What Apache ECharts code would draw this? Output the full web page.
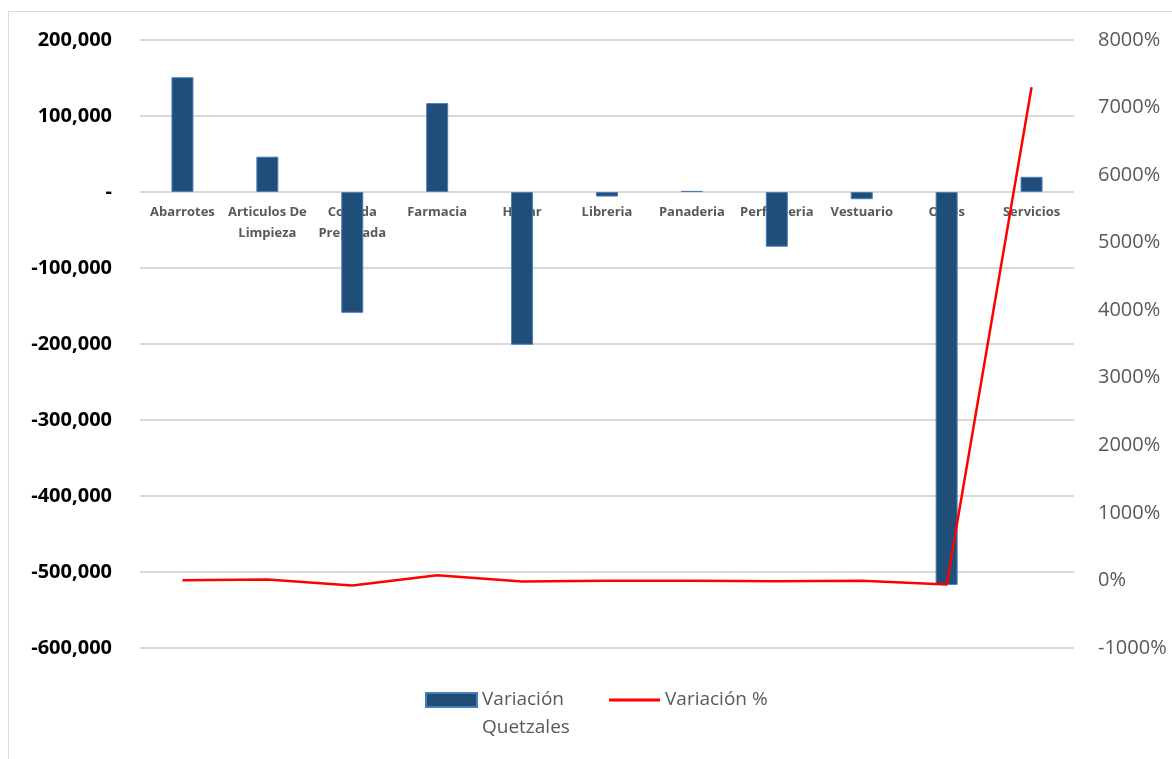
<!DOCTYPE html>
<html>
<head>
<meta charset="utf-8">
<script src="https://cdn.jsdelivr.net/npm/echarts@6/dist/echarts.min.js"></script>
<style>
html,body{margin:0;padding:0;background:#fff;}
#chart{width:1172px;height:759px;}
</style>
</head>
<body>
<div id="chart"></div>
<script>
const categories = ['Abarrotes', 'Articulos De\nLimpieza', 'Comida\nPreparada', 'Farmacia', 'Hogar', 'Libreria', 'Panaderia', 'Perfumeria', 'Vestuario', 'Otros', 'Servicios'];
const variacionQuetzales = [151000, 46500, -159000, 117000, -201000, -6000, 1500, -72000, -9500, -517000, 20000];
const variacionPct = [2, 13, -76, 77, -16, -6, -3, -12, -6, -61, 7300];
const leftTicks = { min: -600000, max: 200000, interval: 100000 };
const rightTicks = { min: -1000, max: 8000, interval: 1000 };

const chart = echarts.init(document.getElementById('chart'), null, { renderer: 'canvas' });
const FONT = '"Open Sans", "DejaVu Sans", sans-serif';

const option = {
  animation: false,
  backgroundColor: '#ffffff',
  graphic: [{
    type: 'rect',
    shape: { x: 8.5, y: 11.5, width: 1300, height: 900 },
    style: { fill: 'none', stroke: '#d9d9d9', lineWidth: 1 },
    silent: true, z: -10
  }],
  grid: { left: 140, right: 98, top: 40, bottom: 111, containLabel: false },
  legend: [{
    data: ['Variación Quetzales'],
    left: 420, top: 653,
    itemWidth: 51, itemHeight: 14, itemGap: 7,
    icon: 'rect',
    formatter: () => ' \nVariación\nQuetzales',
    textStyle: { fontFamily: FONT, fontSize: 19, color: '#595959', lineHeight: 28 }
  }, {
    data: ['Variación %'],
    left: 604, top: 681,
    itemWidth: 51, itemHeight: 3, itemGap: 7,
    icon: 'rect',
    textStyle: { fontFamily: FONT, fontSize: 19, color: '#595959', lineHeight: 28 }
  }],
  xAxis: {
    type: 'category',
    data: categories,
    position: 'bottom',
    offset: -456,
    axisLine: { show: false },
    axisTick: { show: false },
    axisLabel: {
      interval: 0, margin: 10,
      fontFamily: FONT, fontSize: 13, fontWeight: 'bold', color: '#595959', lineHeight: 21
    },
    splitLine: { show: false }
  },
  yAxis: [{
    type: 'value',
    min: leftTicks.min, max: leftTicks.max, interval: leftTicks.interval,
    axisLine: { show: false }, axisTick: { show: false },
    axisLabel: {
      margin: 28,
      fontFamily: FONT, fontSize: 20, fontWeight: 'bold', color: '#000000',
      formatter: v => v === 0 ? '-' : v.toLocaleString('en-US')
    },
    splitLine: { show: true, lineStyle: { color: '#d9d9d9', width: 2 } }
  }, {
    type: 'value',
    min: rightTicks.min, max: rightTicks.max, interval: rightTicks.interval,
    axisLine: { show: false }, axisTick: { show: false },
    axisLabel: {
      margin: 24,
      fontFamily: FONT, fontSize: 20, color: '#595959',
      formatter: v => v + '%'
    },
    splitLine: { show: false }
  }],
  series: [{
    name: 'Variación Quetzales',
    type: 'bar',
    yAxisIndex: 0,
    data: variacionQuetzales,
    barWidth: 22,
    itemStyle: { color: '#1f4e79', borderColor: '#4a7ebb', borderWidth: 1 }
  }, {
    name: 'Variación %',
    type: 'line',
    yAxisIndex: 1,
    data: variacionPct,
    symbol: 'none',
    smooth: false,
    lineStyle: { color: '#ff0000', width: 2.5 },
    itemStyle: { color: '#ff0000' },
    z: 5
  }]
};
chart.setOption(option);
</script>
</body>
</html>
